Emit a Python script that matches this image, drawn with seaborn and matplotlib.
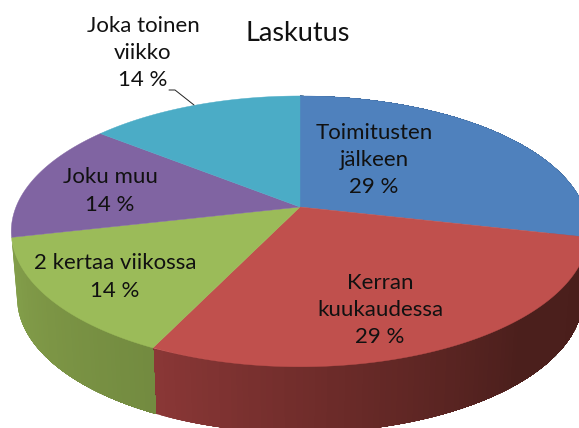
import numpy as np
import matplotlib
matplotlib.use('Agg')
import matplotlib.pyplot as plt
import seaborn as sns

sns.set_theme(style='white')
plt.rcParams['font.family'] = ['Lato', 'DejaVu Sans']

categories = ['Toimitusten\njälkeen', 'Kerran\nkuukaudessa', '2 kertaa viikossa', 'Joku muu', 'Joka toinen\nviikko']
values = [2, 2, 1, 1, 1]
percent_labels = ['29 %', '29 %', '14 %', '14 %', '14 %']
top_colors = ['#4F81BD', '#C0504D', '#9BBB59', '#8064A2', '#4BACC6']
# wall shades left to right, only the front slices show a wall
side_colors = [['#3F6797', '#3F6797'], ['#8A3736', '#692A28', '#4B1F1C', '#4A1E1B'],
               ['#84A04B', '#7C9545', '#738B40'], None, None]
label_pos = [(374, 160), (380, 310), (115, 277), (110, 191), (143, 53)]

# pixel geometry of the tilted disc
cx, cy = 300, 207
rx, ry = 284, 131
persp = 0.18
depth, shift, shrink = 66, 0, 0.98


def project(theta, bottom=False):
    t = np.radians(theta)
    s = 1 / (1 + persp * np.sin(t))
    if bottom:
        return cx + shift + shrink * rx * np.cos(t) * s, cy + depth - ry * np.sin(t) * s
    return cx + rx * np.cos(t) * s, cy - ry * np.sin(t) * s


fig, ax = plt.subplots(figsize=(5.79, 4.28), dpi=100)
wedges, _ = ax.pie(values, startangle=90, counterclock=False)
spans = [(w.theta1, w.theta2) for w in wedges]
for w in wedges:
    w.set_visible(False)

ax.set_aspect('auto')
ax.set_xlim(0, 579)
ax.set_ylim(428, 0)
ax.set_position([0, 0, 1, 1])
ax.axis('off')

# side wall, each strip runs to the slice end so no seams show
for (t1, t2), shades in zip(spans, side_colors):
    if shades is None:
        continue
    n = max(int(t2 - t1), 2)
    cols = sns.blend_palette(shades, n)
    edges = np.linspace(t1, t2, n + 1)
    for i in range(n):
        a = np.linspace(edges[i], t2, 60)
        xt, yt = project(a)
        xb, yb = project(a, bottom=True)
        ax.fill(np.r_[xt, xb[::-1]], np.r_[yt, yb[::-1]], color=cols[i], lw=0, zorder=1)

# top face
for (t1, t2), col in zip(spans, top_colors):
    a = np.linspace(t1, t2, 120)
    xt, yt = project(a)
    ax.fill(np.r_[cx, xt], np.r_[cy, yt], color=col, lw=0.3, zorder=2)

for cat, pct, (x, y) in zip(categories, percent_labels, label_pos):
    ax.text(x, y, cat + '\n' + pct, ha='center', va='center', fontsize=16, color='#111111',
            linespacing=1.45, zorder=3)

ax.plot([169, 175, 194], [90, 90, 105], color='#222222', lw=0.7, zorder=3)
ax.text(298, 33, 'Laskutus', ha='center', va='center', fontsize=19.5, color='#111111')

fig.savefig('out.png', dpi=100)
